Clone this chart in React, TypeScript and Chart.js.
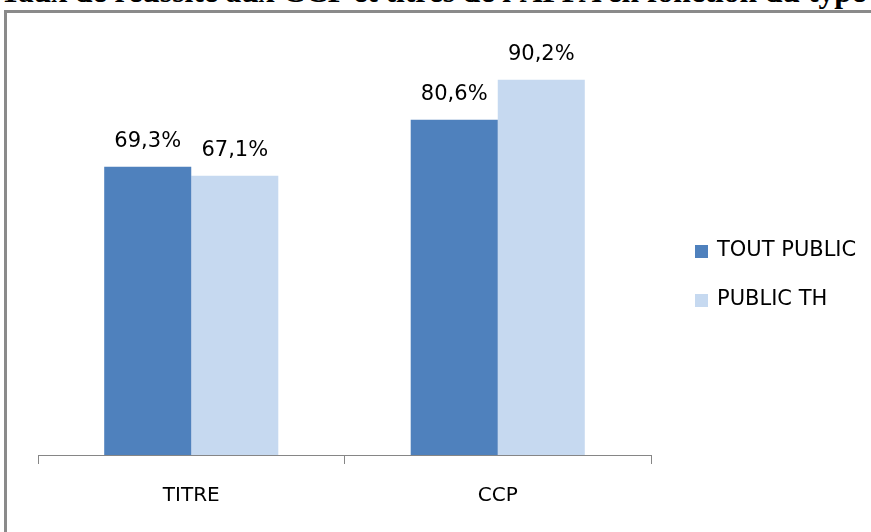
import React, { useEffect, useRef } from "react";
import { Chart, registerables } from "chart.js";

Chart.register(...registerables);

const TITLE = "Taux de réussite aux CCP et titres de l'AFPA en fonction du type";
const categories = ["TITRE", "CCP"];
const seriesNames = ["TOUT PUBLIC", "PUBLIC TH"];
const toutPublic = [69.3, 80.6];
const publicTH = [67.1, 90.2];
const colors = ["#4F81BD", "#C6D9F0"];

const fmt = (v: number) => v.toFixed(1).replace(".", ",") + "%";

const labelsPlugin = {
  id: "valueLabels",
  afterDatasetsDraw(chart: any) {
    const ctx = chart.ctx;
    ctx.save();
    ctx.font = "21px 'DejaVu Sans'";
    ctx.fillStyle = "#000";
    ctx.textAlign = "center";
    ctx.textBaseline = "alphabetic";
    chart.data.datasets.forEach((ds: any, i: number) => {
      const meta = chart.getDatasetMeta(i);
      meta.data.forEach((el: any, j: number) => {
        ctx.fillText(fmt(ds.data[j]), el.x, el.y - 20);
      });
    });
    ctx.restore();
  },
};

const legendPlugin = {
  id: "customLegend",
  afterDraw(chart: any) {
    const ctx = chart.ctx;
    ctx.save();
    ctx.font = "21px 'DejaVu Sans'";
    ctx.textBaseline = "middle";
    ctx.textAlign = "left";
    chart.data.datasets.forEach((ds: any, i: number) => {
      const y = 251 + i * 49;
      ctx.fillStyle = ds.backgroundColor;
      ctx.fillRect(695, y - 6, 13, 13);
      ctx.fillStyle = "#000";
      ctx.fillText(ds.label, 717, y);
    });
    ctx.restore();
  },
};

export default function App() {
  const ref = useRef<HTMLCanvasElement>(null);
  useEffect(() => {
    if (!ref.current) return;
    const chart = new Chart(ref.current, {
      type: "bar",
      data: {
        labels: categories,
        datasets: [
          { label: seriesNames[0], data: toutPublic, backgroundColor: colors[0] },
          { label: seriesNames[1], data: publicTH, backgroundColor: colors[1] },
        ],
      },
      options: {
        animation: false,
        responsive: false,
        maintainAspectRatio: false,
        layout: { padding: { left: 38, right: 220, top: 39, bottom: 4 } },
        plugins: { legend: { display: false }, tooltip: { enabled: false } },
        datasets: { bar: { barPercentage: 1, categoryPercentage: 0.568 } },
        scales: {
          x: {
            offset: true,
            grid: {
              display: true,
              offset: true,
              drawOnChartArea: false,
              drawTicks: true,
              tickLength: 9,
              color: "#868686",
            },
            border: { display: true, color: "#868686", width: 1 },
            ticks: { font: { family: "'DejaVu Sans'", size: 20 }, color: "#000", padding: 20 },
          },
          y: { display: false, min: 0, max: 100 },
        },
      },
      plugins: [labelsPlugin, legendPlugin],
    });
    return () => chart.destroy();
  }, []);

  return (
    <div
      style={{
        position: "fixed",
        left: 0,
        top: 0,
        width: 871,
        height: 532,
        overflow: "hidden",
        background: "#fff",
      }}
    >
      <div
        style={{
          position: "absolute",
          left: 0,
          top: -24,
          whiteSpace: "nowrap",
          fontFamily: "'Liberation Serif', serif",
          fontWeight: "bold",
          fontSize: 31.5,
          lineHeight: "31px",
          color: "#000",
        }}
      >
        {TITLE}
      </div>
      <div
        style={{
          position: "absolute",
          left: 4,
          top: 10,
          width: 950,
          height: 650,
          border: "3px solid #8a8a8a",
        }}
      />
      <canvas
        ref={ref}
        width={871}
        height={532}
        style={{ position: "absolute", left: 0, top: 0, width: 871, height: 532 }}
      />
    </div>
  );
}
